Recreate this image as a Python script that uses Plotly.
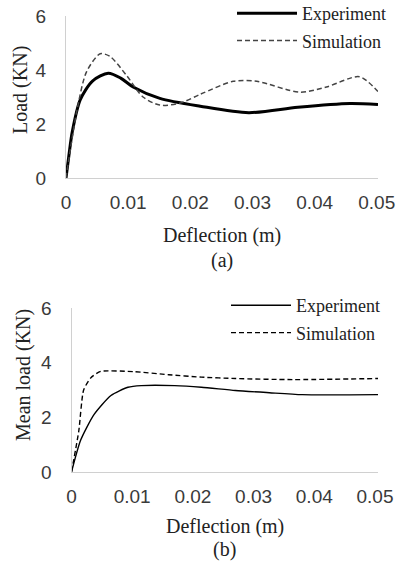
import plotly.graph_objects as go

# Panel (a): Load vs deflection
a_exp_x = [0, 0.0005, 0.001, 0.0023, 0.0043, 0.0068, 0.0088, 0.0108, 0.0151, 0.0216, 0.0294, 0.0373, 0.0457, 0.0502]
a_exp_y = [0, 0.9, 1.7, 2.9, 3.6, 3.88, 3.7, 3.37, 2.95, 2.66, 2.42, 2.62, 2.76, 2.72]
a_sim_x = [0, 0.0008, 0.0018, 0.0033, 0.0055, 0.0071, 0.0098, 0.0124, 0.0151, 0.0183, 0.0216, 0.0269,
           0.0307, 0.0376, 0.0419, 0.0472, 0.0502]
a_sim_y = [0, 1.2, 2.55, 3.93, 4.6, 4.5, 3.78, 3.0, 2.7, 2.77, 3.1, 3.58, 3.58, 3.18, 3.37, 3.75, 3.2]

# Panel (b): Mean load vs deflection
b_exp_x = [0, 0.0015, 0.0037, 0.0065, 0.0093, 0.0115, 0.017, 0.0214, 0.027, 0.0326, 0.038, 0.0505]
b_exp_y = [0, 1.16, 2.1, 2.8, 3.1, 3.16, 3.16, 3.1, 2.98, 2.9, 2.83, 2.83]
b_sim_x = [0, 0.0012, 0.002, 0.0032, 0.0048, 0.0103, 0.016, 0.0214, 0.027, 0.0364, 0.0505]
b_sim_y = [0, 1.5, 3.0, 3.45, 3.68, 3.67, 3.56, 3.47, 3.42, 3.38, 3.42]

x_ticks = [0, 0.01, 0.02, 0.03, 0.04, 0.05]
x_tick_text = ["0", "0.01", "0.02", "0.03", "0.04", "0.05"]
y_ticks = [0, 2, 4, 6]

SERIF = "Liberation Serif"
SANS = "Liberation Sans"
TXT = "#3a3a3a"

fig = go.Figure()
fig.add_trace(go.Scatter(x=a_exp_x, y=a_exp_y, mode="lines", name="Experiment", legendgroup="ae",
                         line=dict(color="black", width=3, shape="spline", smoothing=0.8),
                         xaxis="x", yaxis="y", legend="legend"))
fig.add_trace(go.Scatter(x=a_sim_x, y=a_sim_y, mode="lines", name="Simulation", legendgroup="as",
                         line=dict(color="#444444", width=1.5, dash="5px,3px", shape="spline", smoothing=0.8),
                         xaxis="x", yaxis="y", legend="legend"))
fig.add_trace(go.Scatter(x=b_exp_x, y=b_exp_y, mode="lines", name="Experiment", legendgroup="be",
                         line=dict(color="black", width=1.4, shape="spline", smoothing=0.6),
                         xaxis="x2", yaxis="y2", legend="legend2"))
fig.add_trace(go.Scatter(x=b_sim_x, y=b_sim_y, mode="lines", name="Simulation", legendgroup="bs",
                         line=dict(color="black", width=1.4, dash="5px,3px", shape="spline", smoothing=0.6),
                         xaxis="x2", yaxis="y2", legend="legend2"))

W, H = 398, 574

def px_x(p):
    return p / W

def px_y(p):
    return 1 - p / H

xax = dict(tickvals=x_ticks, ticktext=x_tick_text, showgrid=False, zeroline=False,
           showline=True, linecolor="#d0d0d0", linewidth=1, ticks="", ticklabelstandoff=7,
           tickfont=dict(family=SANS, size=19, color=TXT))
yax = dict(range=[0, 6], tickvals=y_ticks, showgrid=False, zeroline=False,
           showline=True, linecolor="#d0d0d0", linewidth=1, ticks="", ticklabelstandoff=15,
           tickfont=dict(family=SANS, size=19, color=TXT))

leg = dict(bgcolor="rgba(0,0,0,0)", font=dict(family=SERIF, size=18, color="#222"),
           xanchor="left", yanchor="top", tracegroupgap=1, itemwidth=60, traceorder="grouped")

ann_font = dict(family=SERIF, size=20, color="#222")

def ann(text, x, y, angle=0):
    return dict(text=text, x=px_x(x), y=px_y(y), xref="paper", yref="paper", textangle=angle,
                xanchor="center", yanchor="middle", showarrow=False, font=ann_font)

fig.update_layout(
    width=W, height=H, margin=dict(l=0, r=0, t=0, b=0, autoexpand=False),
    paper_bgcolor="white", plot_bgcolor="white",
    xaxis=dict(xax, range=[0, 0.0502], domain=[px_x(66), px_x(378)], anchor="y"),
    yaxis=dict(yax, domain=[px_y(178), px_y(16)], anchor="x"),
    xaxis2=dict(xax, range=[0, 0.0505], domain=[px_x(71.5), px_x(378)], anchor="y2"),
    yaxis2=dict(yax, domain=[px_y(472), px_y(308)], anchor="x2"),
    legend=dict(leg, x=px_x(232), y=px_y(-5)),
    legend2=dict(leg, x=px_x(226), y=px_y(287)),
    annotations=[
        ann("Deflection (m)", 222, 235),
        ann("(a)", 222, 260),
        ann("Load (KN)", 20, 90, -90),
        ann("Deflection (m)", 225, 526),
        ann("(b)", 225, 549),
        ann("Mean load (KN)", 23, 375, -90),
    ],
)

fig.write_html("out.html")
